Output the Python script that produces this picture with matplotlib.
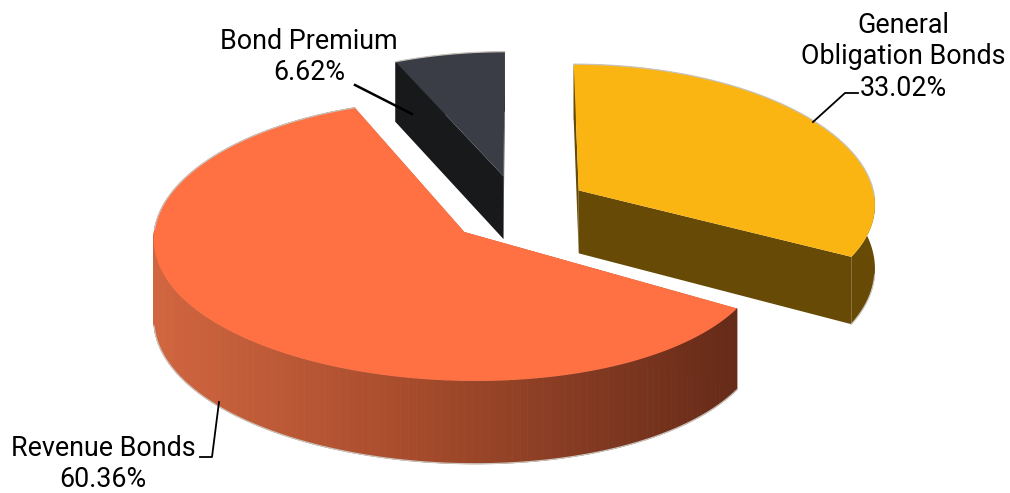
import numpy as np
import matplotlib
matplotlib.use("Agg")
import matplotlib.pyplot as plt
from matplotlib.colors import to_rgb
from matplotlib.patches import Polygon

# Data
categories = ["General\nObligation Bonds", "Revenue Bonds", "Bond Premium"]
values = [33.02, 60.36, 6.62]
labels = ["33.02%", "60.36%", "6.62%"]
colors = ["#FBB512", "#FF7043", "#3A3D45"]
side_colors = ["#664A05", "#B85535", "#18191B"]
explode = [0.24, 0.24, 0.24]

# Projection of the tilted disc onto the canvas (pixels)
CX, CY = 518, 208
FX, P, S = 298, 0.092, 0.0145
FY, Q = 137, 0.06
radius_x = [1.02, 1.0, 0.995]
radius_y = [0.99, 1.0, 0.99]
shear = [0, 8, 0]
offset_y = [-1, 3, 0]
depth = [64, 79, 63.6]
depth_r = [0.14, 0.04, 0.05]


def project(i, x, y, z=0.0):
    w = 1 + P * y + S * x
    sx = CX + FX * x / w
    sy = (CY + offset_y[i] - FY * y / (1 + Q * y) + shear[i] * x
          + z * depth[i] / (1 + depth_r[i] * y))
    return np.column_stack([sx, sy])


fig = plt.figure(figsize=(10.10, 4.93), dpi=100)
ax = fig.add_axes([0, 0, 1, 1])
ax.set_xlim(0, 1010)
ax.set_ylim(493, 0)
ax.axis("off")
plt.rcParams["font.family"] = ["Roboto", "DejaVu Sans"]

edges = np.cumsum([0] + values) / sum(values) * 2 * np.pi
wedges = []
for i in range(len(values)):
    a0, a1 = edges[i], edges[i + 1]
    mid = (a0 + a1) / 2
    ox, oy = explode[i] * np.sin(mid), explode[i] * np.cos(mid)
    th = np.linspace(a0, a1, 160)
    wedges.append((th, radius_x[i] * np.sin(th) + ox, radius_y[i] * np.cos(th) + oy, ox, oy))


def side(points_top, points_bot, color, z):
    poly = np.vstack([points_top, points_bot[::-1]])
    ax.add_patch(Polygon(poly, closed=True, fc=color, ec="none", zorder=z))


def rim_color(px):
    stops_x = [160, 430, 737]
    stops_c = [to_rgb("#D0653F"), to_rgb("#A34A2B"), to_rgb("#652A18")]
    return [np.interp(px, stops_x, [c[k] for c in stops_c]) for k in range(3)]


EDGE = "#C9C4BC"
for i, z in zip([2, 0, 1], [2, 4, 6]):
    th, xs, ys, ox, oy = wedges[i]
    tip_t = project(i, np.array([ox]), np.array([oy]), 0)
    tip_b = project(i, np.array([ox]), np.array([oy]), 1)
    arc_t = project(i, xs, ys, 0)
    arc_b = project(i, xs, ys, 1)
    # radial faces
    side(np.vstack([tip_t, arc_t[:1]]), np.vstack([tip_b, arc_b[:1]]), side_colors[i], z)
    side(np.vstack([tip_t, arc_t[-1:]]), np.vstack([tip_b, arc_b[-1:]]), side_colors[i], z)
    # outer rim
    if i == 1:
        for k in range(len(xs) - 1):
            q = np.vstack([arc_t[k:k + 2], arc_b[k:k + 2][::-1]])
            ax.add_patch(Polygon(q, closed=True, fc=rim_color(q[:, 0].mean()),
                                 ec=rim_color(q[:, 0].mean()), lw=0.6, zorder=z))
    else:
        side(arc_t, arc_b, side_colors[i], z)
    # top face
    top = np.vstack([tip_t, arc_t])
    ax.add_patch(Polygon(top, closed=True, fc=colors[i], ec="none", zorder=z + 1))
    back = np.cos(th) > -0.05
    ax.plot(arc_t[back, 0], arc_t[back, 1], color=EDGE, lw=0.9, zorder=z + 1)
    front = np.cos(th) < -0.15
    ax.plot(arc_b[front, 0], arc_b[front, 1], color=EDGE, lw=0.9, zorder=z + 1)

# Leader lines
ax.plot([355, 412], [85, 114], color="black", lw=1.8, zorder=10)
ax.plot([813, 845, 858], [122, 93, 93], color="black", lw=1.3, zorder=10)
ax.plot([219, 212, 200], [402, 457, 457], color="black", lw=1.3, zorder=10)

# Labels
fs = 19.4
ax.text(903, 57, categories[0] + "\n" + labels[0], ha="center", va="center",
        fontsize=fs, linespacing=1.2, multialignment="center", zorder=11)
ax.text(103, 464, categories[1] + "\n" + labels[1], ha="center", va="center",
        fontsize=fs, linespacing=1.2, multialignment="center", zorder=11)
ax.text(309, 57, categories[2] + "\n" + labels[2], ha="center", va="center",
        fontsize=fs, linespacing=1.2, multialignment="center", zorder=11)

fig.savefig("out.png", dpi=100, facecolor="white")
